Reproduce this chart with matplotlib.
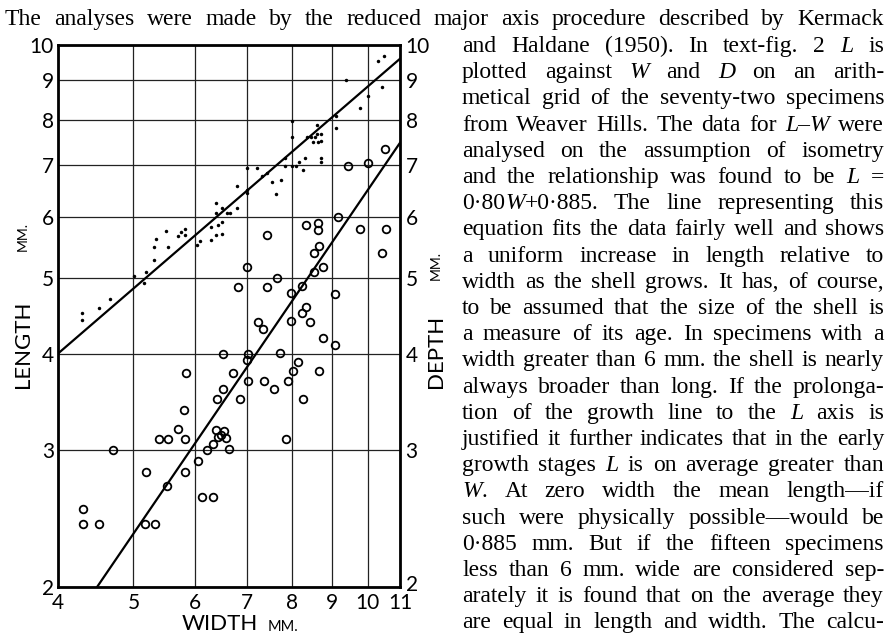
import numpy as np
import matplotlib.pyplot as plt
from matplotlib.ticker import FixedLocator, FixedFormatter, NullLocator

# ---- data ----
width_L = [4.29, 4.29, 4.51, 4.66, 5.01, 5.16, 5.19, 5.32, 5.32, 5.35, 5.50, 5.53, 5.70, 5.76,
           5.83, 5.83, 6.03, 6.09, 6.29, 6.29, 6.38, 6.39, 6.39, 6.43, 6.49, 6.49, 6.50, 6.59,
           6.65, 6.79, 6.79, 7.00, 7.00, 7.00, 7.20, 7.31, 7.42, 7.53, 7.62, 7.73, 7.83, 7.83,
           8.00, 8.00, 8.00, 8.08, 8.16, 8.25, 8.30, 8.35, 8.45, 8.55, 8.60, 8.50, 8.62, 8.72,
           8.60, 8.70, 8.70, 8.70, 9.10, 9.10, 9.39, 9.77, 10.02, 10.31, 10.50, 10.42]
length = [4.51, 4.42, 4.58, 4.70, 5.04, 4.93, 5.09, 5.28, 5.49, 5.62, 5.76, 5.49, 5.67, 5.74,
          5.79, 5.68, 5.52, 5.59, 5.60, 5.83, 5.69, 6.08, 6.26, 5.86, 5.71, 6.16, 5.92, 6.08,
          6.08, 6.17, 6.58, 6.44, 6.50, 6.95, 6.95, 6.78, 6.83, 6.66, 6.42, 6.70, 7.16, 6.98,
          6.98, 7.62, 7.99, 6.98, 7.06, 6.90, 7.14, 7.60, 7.60, 7.60, 7.68, 7.50, 7.50, 7.52,
          7.89, 7.67, 7.16, 7.06, 8.10, 7.81, 9.00, 8.29, 8.60, 9.54, 9.69, 8.83]

width_D = [7.00, 6.82, 7.42, 7.42, 7.64, 7.97, 8.22, 8.32, 8.64, 8.64, 8.66, 8.53, 8.53, 8.75,
           9.17, 9.07, 9.43, 10.02, 10.52, 9.77, 10.56, 10.42, 8.22, 8.32, 7.97, 8.43, 7.22,
           7.33, 8.75, 9.07, 6.51, 7.02, 7.00, 7.72, 8.14, 8.02, 8.65, 5.84, 6.71, 7.02, 7.36,
           7.90, 7.57, 6.51, 6.41, 6.85, 8.25, 5.81, 5.71, 5.39, 5.53, 5.83, 6.38, 6.54, 6.43,
           6.57, 6.47, 6.33, 6.63, 6.22, 4.70, 6.05, 5.19, 5.83, 5.52, 6.12, 6.32, 4.31, 4.31,
           4.51, 5.18, 5.33, 7.84]
depth = [5.17, 4.88, 5.69, 4.88, 5.01, 4.79, 4.89, 5.86, 5.90, 5.77, 5.50, 5.39, 5.10, 5.18,
         6.00, 4.77, 6.98, 7.04, 7.34, 5.79, 5.79, 5.39, 4.51, 4.59, 4.41, 4.39, 4.39, 4.30,
         4.19, 4.10, 4.00, 4.00, 3.92, 4.01, 3.90, 3.80, 3.80, 3.78, 3.78, 3.69, 3.69, 3.69,
         3.60, 3.60, 3.50, 3.50, 3.50, 3.38, 3.20, 3.10, 3.10, 3.10, 3.19, 3.18, 3.12, 3.11,
         3.14, 3.06, 3.01, 3.00, 3.00, 2.91, 2.81, 2.81, 2.70, 2.61, 2.61, 2.52, 2.41, 2.41,
         2.41, 2.41, 3.10]

# fitted lines (end points)
lw_line_w = [4.0, 11.0]
lw_line_l = [4.0, 9.6]
dw_line_w = [4.49, 11.0]
dw_line_d = [2.0, 7.48]

x_ticks = [4, 5, 6, 7, 8, 9, 10, 11]
y_ticks = [2, 3, 4, 5, 6, 7, 8, 9, 10]

top_line = "The analyses were made by the reduced major axis procedure described by Kermack"
column_lines = [
    "and Haldane (1950). In text-fig. 2 *L* is",
    "plotted against *W* and *D* on an arith-",
    "metical grid of the seventy-two specimens",
    "from Weaver Hills. The data for *L–W* were",
    "analysed on the assumption of isometry",
    "and the relationship was found to be *L* =",
    "0·80*W*+0·885. The line representing this",
    "equation fits the data fairly well and shows",
    "a uniform increase in length relative to",
    "width as the shell grows. It has, of course,",
    "to be assumed that the size of the shell is",
    "a measure of its age. In specimens with a",
    "width greater than 6 mm. the shell is nearly",
    "always broader than long. If the prolonga-",
    "tion of the growth line to the *L* axis is",
    "justified it further indicates that in the early",
    "growth stages *L* is on average greater than",
    "*W*. At zero width the mean length—if",
    "such were physically possible—would be",
    "0·885 mm. But if the fifteen specimens",
    "less than 6 mm. wide are considered sep-",
    "arately it is found that on the average they",
    "are equal in length and width. The calcu-",
]

# ---- figure ----
W_PX, H_PX = 889, 636
fig = plt.figure(figsize=(W_PX / 100, H_PX / 100), dpi=100)
fig.patch.set_facecolor('white')


def fx(px):
    return px / W_PX


def fy(py):
    return 1 - py / H_PX


ax = fig.add_axes([fx(58), fy(587), 342 / W_PX, 542 / H_PX])
ax.set_xscale('log')
ax.set_yscale('log')
ax.set_xlim(4, 11)
ax.set_ylim(2, 10)

ax.plot(width_L, length, 'o', color='black', markersize=2.5, markeredgewidth=0)
ax.plot(width_D, depth, 'o', mfc='none', mec='black', markersize=5.5, markeredgewidth=1.3)
ax.plot(lw_line_w, lw_line_l, color='black', lw=1.6)
ax.plot(dw_line_w, dw_line_d, color='black', lw=1.6)

ax.xaxis.set_major_locator(FixedLocator(x_ticks))
ax.xaxis.set_major_formatter(FixedFormatter([str(v) for v in x_ticks]))
ax.yaxis.set_major_locator(FixedLocator(y_ticks))
ax.yaxis.set_major_formatter(FixedFormatter([str(v) for v in y_ticks]))
ax.xaxis.set_minor_locator(NullLocator())
ax.yaxis.set_minor_locator(NullLocator())
ax.tick_params(axis='both', length=0, colors='black', labelsize=15)
ax.tick_params(axis='x', pad=4)
ax.tick_params(axis='y', pad=3)
for lab in ax.get_xticklabels() + ax.get_yticklabels():
    lab.set_fontfamily('Lato')

# right-hand depth scale (same values)
for v in y_ticks:
    dy = 3 if v == 2 else 0
    ax.annotate(str(v), xy=(1.0, v), xycoords=('axes fraction', 'data'),
                xytext=(4, dy), textcoords='offset points',
                ha='left', va='center_baseline', family='Lato', size=15)

ax.grid(True, color='#222222', lw=0.9)
for s in ax.spines.values():
    s.set_linewidth(2.0)
    s.set_color('black')

# axis titles
fig.text(fx(23), fy(388), "LENGTH", rotation=90, ha='center', va='bottom',
         family='Lato', size=16)
fig.text(fx(23), fy(251), "MM.", rotation=90, ha='center', va='bottom',
         family='Lato', size=10)
fig.text(fx(436), fy(388), "DEPTH", rotation=90, ha='center', va='bottom',
         family='Lato', size=16)
fig.text(fx(436), fy(280), "MM.", rotation=90, ha='center', va='bottom',
         family='Lato', size=10)
fig.text(fx(182), fy(634), "WIDTH", ha='left', va='bottom', family='Lato', size=16)
fig.text(fx(268), fy(634), "MM.", ha='left', va='bottom', family='Lato', size=10.5)

# ---- justified body text ----
SERIF = 'Liberation Serif'
FS = 17
renderer = fig.canvas.get_renderer()


def word_parts(word):
    parts = word.split('*')
    return [(p, i % 2 == 1) for i, p in enumerate(parts) if p]


def draw_justified(line, x0, x1, y):
    words = []
    for w in line.split(' '):
        segs = []
        for txt, ital in word_parts(w):
            t = fig.text(0, fy(y), txt, fontsize=FS, family=SERIF,
                         style='italic' if ital else 'normal', va='baseline', ha='left')
            segs.append((t, t.get_window_extent(renderer).width))
        words.append(segs)
    widths = [sum(s[1] for s in segs) for segs in words]
    gap = (x1 - x0 - sum(widths)) / max(len(words) - 1, 1)
    x = x0
    for segs, wd in zip(words, widths):
        xx = x
        for t, sw in segs:
            t.set_x(fx(xx))
            xx += sw
        x += wd + gap


draw_justified(top_line, 5, 884, 25)
for i, line in enumerate(column_lines):
    draw_justified(line, 462, 884, 52 + i * 26.2)

fig.savefig('out.png', dpi=100, facecolor='white')
